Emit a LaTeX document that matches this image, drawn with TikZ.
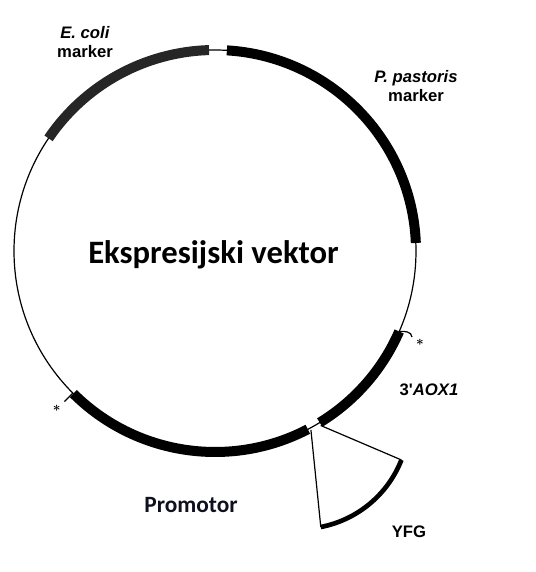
\documentclass[tikz,border=0pt]{standalone}
\usepackage{fontspec}
\setmainfont{Liberation Sans}
\newfontfamily\calibri{Carlito}
\begin{document}
\begin{tikzpicture}[
    x=0.75pt, y=0.75pt,
    plasmid/.style={draw, line width=0.9pt},
    band/.style={draw, line width=7.5pt},
    insert/.style={draw, line width=3.5pt},
    label/.style={font=\fontsize{12.5}{14.5}\selectfont\bfseries, align=center, inner sep=0pt},
    title/.style={font=\calibri\fontsize{24.5}{28}\selectfont\bfseries, inner sep=0pt},
    star/.style={font=\normalsize\boldmath, inner sep=0pt}
]
\useasboundingbox (0,0) rectangle (536,572);
\coordinate (C) at (215,321);
% backbone
\draw[plasmid] (C) circle[radius=201];
% elements on the vector
\draw[band, black!85] ([shift={(145.9:201)}]C) arc[start angle=145.9, end angle=91.7, radius=201];
\draw[band] ([shift={(86.6:201)}]C) arc[start angle=86.6, end angle=2.3, radius=201];
\draw[band] ([shift={(-23.6:201)}]C) arc[start angle=-23.6, end angle=-58.6, radius=201];
\draw[band] ([shift={(-134.8:201)}]C) arc[start angle=-134.8, end angle=-62.5, radius=201];
% ticks and asterisks
\coordinate (tickA) at ([shift={(-135:201)}]C);
\coordinate (tickA2) at ([shift={(-135:213)}]C);
\draw[plasmid] (tickA) -- (tickA2);
\node[star] (astA) at ([shift={(-135.2:223)}]C) {$\ast$};
\coordinate (tickB) at ([shift={(-23.6:201)}]C);
\coordinate (tickB2) at (412,235);
\draw[plasmid] (tickB) to[out=5,in=95] (tickB2);
\node[star] (astB) at (420,230) {$\ast$};
% YFG insert
\coordinate (gapL) at ([shift={(-61.8:203)}]C);
\coordinate (gapR) at ([shift={(-58.8:204)}]C);
\coordinate (W) at (300,152);
\coordinate (yfgL) at ([shift={(-79:109)}]W);
\coordinate (yfgR) at ([shift={(-21.5:109)}]W);
\draw[plasmid] (gapL) -- (yfgL);
\draw[plasmid] (gapR) -- (yfgR);
\draw[insert] (yfgL) arc[start angle=-79, end angle=-21.5, radius=109];
% labels
\node[label] (ecoli) at (85,530) {\textit{E. coli}\\marker};
\node[label] (pastoris) at (416,486) {\textit{P. pastoris}\\marker};
\node[title, anchor=base] (vektor) at (213.5,308) {Ekspresijski vektor};
\node[label] (aox) at (429,182) {3\textquotesingle\textit{AOX1}};
\node[title, font=\calibri\fontsize{17.5}{20}\selectfont\bfseries, text={rgb,255:red,15;green,15;blue,30}] (promotor) at (191,67) {Promotor};
\node[label] (yfg) at (409,40) {YFG};
\end{tikzpicture}
\end{document}
